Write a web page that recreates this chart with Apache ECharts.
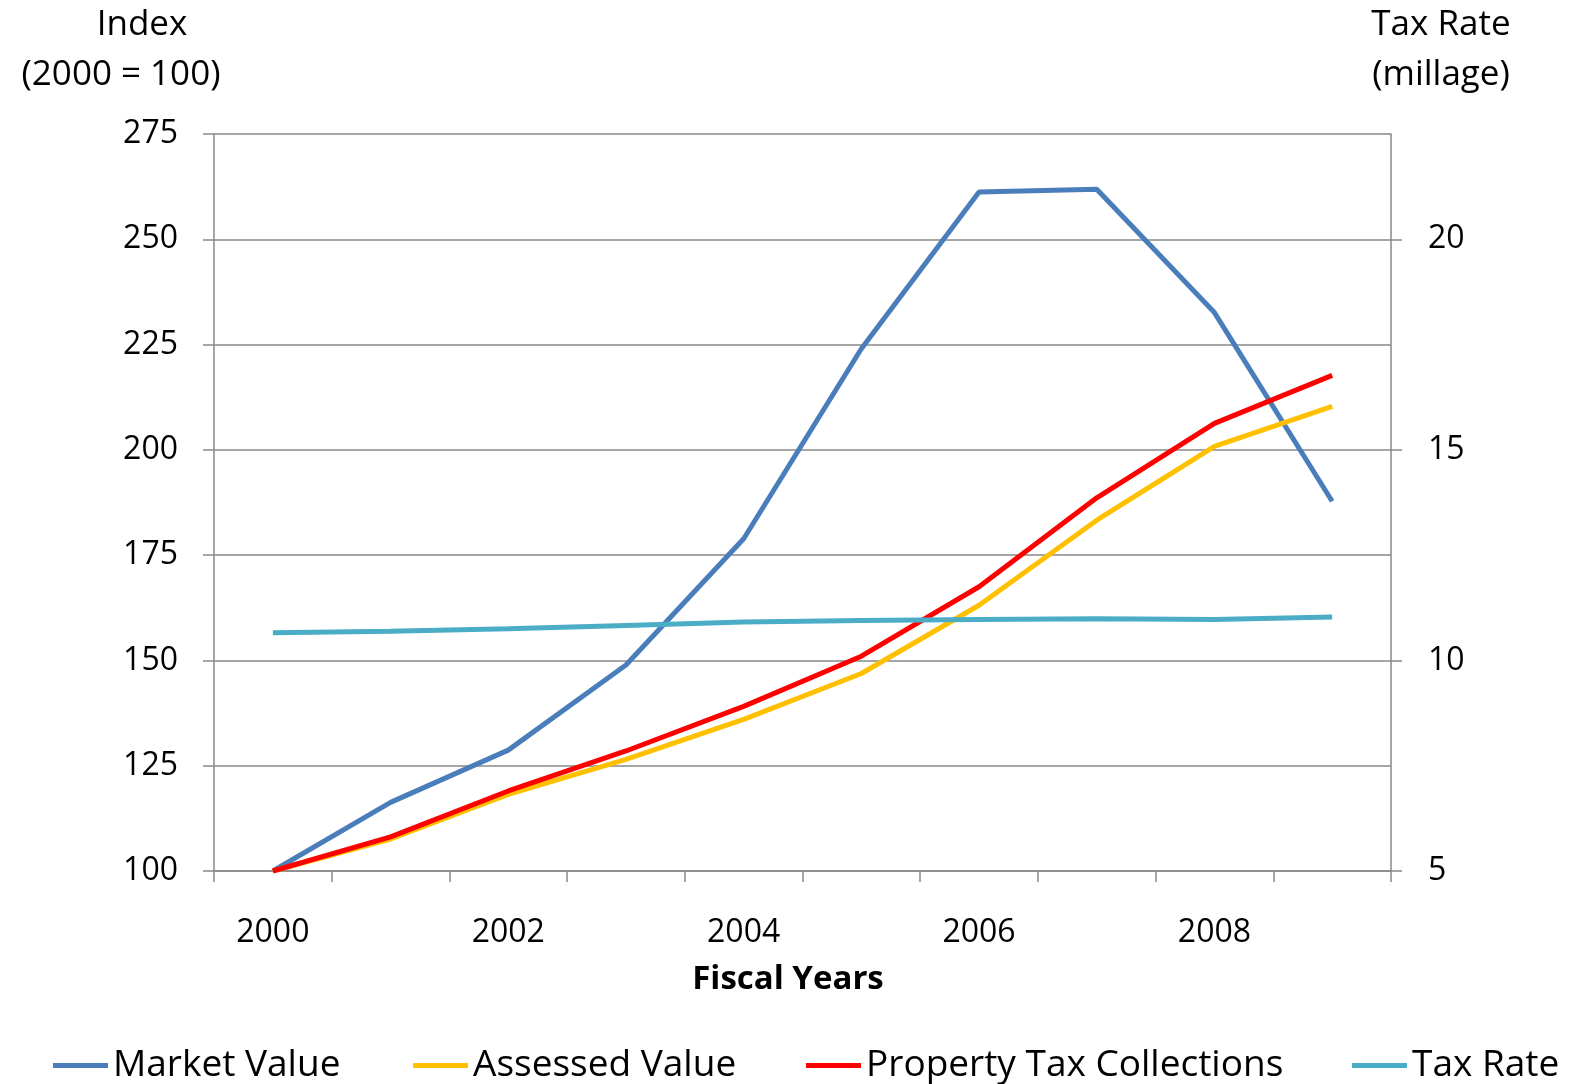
<!DOCTYPE html>
<html>
<head>
<meta charset="utf-8">
<script src="https://cdn.jsdelivr.net/npm/echarts@6/dist/echarts.min.js"></script>
<style>
  html, body { margin: 0; padding: 0; background: #ffffff; }
  #chart { width: 1570px; height: 1084px; }
</style>
</head>
<body>
<div id="chart"></div>
<script>
// Fiscal years on the category axis
const years = ['2000', '2001', '2002', '2003', '2004', '2005', '2006', '2007', '2008', '2009'];

// Index series (2000 = 100), left axis
const marketValue    = [100, 116.3, 128.7, 148.9, 178.9, 224.0, 261.2, 261.9, 232.6, 187.8];
const assessedValue  = [100, 107.6, 118.2, 126.5, 136.0, 146.9, 163.1, 183.3, 200.8, 210.3];
const taxCollections = [100, 108.1, 119.0, 128.5, 139.1, 151.0, 167.5, 188.6, 206.3, 217.7];

// Tax rate in mills, right axis
const taxRate = [10.66, 10.69, 10.75, 10.83, 10.91, 10.95, 10.97, 10.99, 10.97, 11.03];

// Series names shown in the legend
const seriesNames = ['Market Value', 'Assessed Value', 'Property Tax Collections', 'Tax Rate'];

// Right-axis labelled ticks
const rateTicks = [5, 10, 15, 20];

const FONT = '"Open Sans", "Liberation Sans", sans-serif';
const GRID_GRAY = '#898989';
const COLORS = ['#4A7EBB', '#FFC000', '#FF0000', '#4BACC6'];
const LINE_W = 5;

const chart = echarts.init(document.getElementById('chart'), null, { renderer: 'canvas' });

function lineSeries(name, data, color, axisIndex) {
  return {
    name: name,
    type: 'line',
    yAxisIndex: axisIndex,
    data: data,
    symbol: 'none',
    showSymbol: false,
    color: color,
    lineStyle: { color: color, width: LINE_W },
    emphasis: { disabled: true },
    animation: false
  };
}

function legendAt(name, left) {
  return {
    data: [{ name: name, icon: 'rect' }],
    left: left,
    top: 1047,
    padding: 0,
    itemWidth: 55,
    itemHeight: 5,
    itemGap: 0,
    selectedMode: false,
    textStyle: { fontFamily: FONT, fontSize: 37, color: '#000000' }
  };
}

function title(text, x, y, font) {
  return {
    type: 'text', x: x, y: y, silent: true,
    style: { text: text, fill: '#000000', font: font, textAlign: 'center', textVerticalAlign: 'middle' }
  };
}

const option = {
  backgroundColor: '#ffffff',
  animation: false,
  grid: { left: 214, right: 179, top: 134, bottom: 213, containLabel: false },
  legend: [
    legendAt(seriesNames[0], 53),
    legendAt(seriesNames[1], 413),
    legendAt(seriesNames[2], 806),
    legendAt(seriesNames[3], 1352)
  ],
  xAxis: {
    type: 'category',
    data: years,
    boundaryGap: true,
    axisLine: { show: true, lineStyle: { color: GRID_GRAY, width: 1.5 } },
    axisTick: { show: true, interval: 0, length: 11, lineStyle: { color: GRID_GRAY, width: 1.5 } },
    axisLabel: { interval: 1, margin: 46, fontFamily: FONT, fontSize: 32, color: '#000000' },
    splitLine: { show: false }
  },
  yAxis: [
    {
      type: 'value',
      min: 100,
      max: 275,
      interval: 25,
      axisLine: { show: true, lineStyle: { color: GRID_GRAY, width: 1.5 } },
      axisTick: { show: true, length: 11, lineStyle: { color: GRID_GRAY, width: 1.5 } },
      axisLabel: { margin: 36, fontFamily: FONT, fontSize: 32, color: '#000000' },
      splitLine: { show: true, lineStyle: { color: GRID_GRAY, width: 1.5 } }
    },
    {
      type: 'value',
      position: 'right',
      min: 5,
      max: 22.5,
      interval: 5,
      axisLine: { show: true, lineStyle: { color: GRID_GRAY, width: 1.5 } },
      axisTick: { show: true, length: 11, customValues: rateTicks, lineStyle: { color: GRID_GRAY, width: 1.5 } },
      axisLabel: { margin: 37, customValues: rateTicks, fontFamily: FONT, fontSize: 32, color: '#000000' },
      splitLine: { show: false }
    }
  ],
  graphic: [
    title('Index', 142, 25, '35px ' + FONT),
    title('(2000 = 100)', 121, 75, '35px ' + FONT),
    title('Tax Rate', 1441, 25, '35px ' + FONT),
    title('(millage)', 1441, 75, '35px ' + FONT),
    title('Fiscal Years', 788, 980, 'bold 33px ' + FONT)
  ],
  series: [
    lineSeries(seriesNames[0], marketValue, COLORS[0], 0),
    lineSeries(seriesNames[1], assessedValue, COLORS[1], 0),
    lineSeries(seriesNames[2], taxCollections, COLORS[2], 0),
    lineSeries(seriesNames[3], taxRate, COLORS[3], 1)
  ]
};

chart.setOption(option);
</script>
</body>
</html>
